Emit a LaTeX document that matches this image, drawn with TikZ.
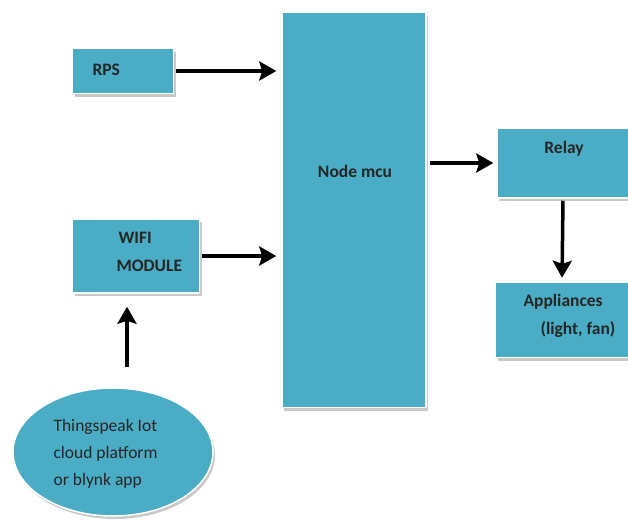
\documentclass[tikz,border=0pt]{standalone}
\usepackage{fontspec}
\setmainfont{Carlito}
\usetikzlibrary{shapes.geometric,shadows,arrows.meta}
\definecolor{boxblue}{HTML}{4BACC6}

\begin{document}
\begin{tikzpicture}[x=1pt, y=-1pt,
    blk/.style={rectangle, draw=white, line width=1.5pt, fill=boxblue, inner sep=0pt,
        drop shadow={shadow xshift=2pt, shadow yshift=-3pt, fill=gray!60, opacity=0.7}},
    cloudshape/.style={ellipse, draw=white, line width=1.5pt, fill=boxblue, inner sep=0pt,
        drop shadow={shadow xshift=2pt, shadow yshift=-3pt, fill=gray!60, opacity=0.7}},
    lbl/.style={font=\bfseries\fontsize{17.5}{27.5}\selectfont, text=black!85, align=left},
    conn/.style={-{Stealth[length=17pt, width=19pt, inset=3pt]}, line width=3.5pt},
]
\useasboundingbox (0,0) rectangle (628,522);

% Blöcke
\node[blk, minimum width=101, minimum height=45] (rps) at (123,71) {};
\node[blk, minimum width=144, minimum height=395] (mcu) at (354,210) {};
\node[blk, minimum width=127, minimum height=74] (wifi) at (136,256) {};
\node[blk, minimum width=136, minimum height=70] (relay) at (565,163) {};
\node[blk, minimum width=137, minimum height=75] (appl) at (564,320) {};
\node[cloudshape, minimum width=200, minimum height=128] (cloud) at (113,452) {};

% Beschriftungen
\node[lbl, anchor=west] (rpstxt) at (89,70) {RPS};
\node[lbl] (mcutxt) at (355,171) {Node mcu};
\node[lbl, anchor=north west] (wifitxt) at (113,229) {\hspace*{2pt}WIFI\\MODULE};
\node[lbl] (relaytxt) at (564,149) {Relay};
\node[lbl, anchor=north west] (appltxt) at (520,291) {Appliances\\\hspace*{17pt}(light, fan)};
\node[lbl, font=\fontsize{17.5}{27}\selectfont, anchor=north west] (cloudtxt) at (50,416)
    {Thingspeak Iot\\cloud platform\\or blynk app};

% Verbindungen
\draw[conn, shorten <=2pt, shorten >=5pt] (rps.east) -- (rps.east -| mcu.west);
\draw[conn, shorten <=2pt, shorten >=5pt] (wifi.east) -- (wifi.east -| mcu.west);
\draw[conn, shorten <=3pt, shorten >=3pt] (mcu.east |- relay.west) -- (relay.west);
\draw[conn, shorten <=2pt, shorten >=4pt] ([xshift=-2pt]relay.south) -- ([xshift=-2pt]appl.north);
\draw[conn, shorten <=20pt, shorten >=13pt] ([xshift=-9pt]wifi.south |- cloud.north) -- ([xshift=-9pt]wifi.south);

\end{tikzpicture}
\end{document}
